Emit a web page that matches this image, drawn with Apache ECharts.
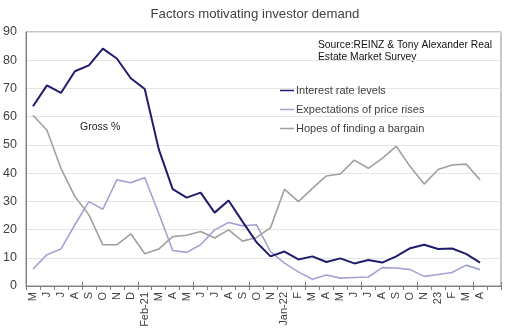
<!DOCTYPE html>
<html>
<head>
<meta charset="utf-8">
<script src="https://cdn.jsdelivr.net/npm/echarts@6/dist/echarts.min.js"></script>
<style>
html,body{margin:0;padding:0;background:#fff;}
#chart{width:510px;height:333px;}
</style>
</head>
<body>
<div id="chart"></div>
<script>
// Survey months (no survey in Jan-21, Dec-21 and Dec-22); the last slot is left empty
const months = ['M','J','J','A','S','O','N','D','Feb-21','M','A','M','J','J','A','S','O','N','Jan-22','F','M','A','M','J','J','A','S','O','N','23','F','M','A',''];

// Gross % of respondents citing each factor
const interestRateLevels = [63.7, 71.1, 68.4, 76.1, 78.2, 84.1, 80.6, 73.6, 69.8, 48.5, 34.3, 31.3, 33.1, 26.0, 30.3, 22.8, 15.5, 10.5, 12.2, 9.4, 10.5, 8.5, 9.8, 8.0, 9.2, 8.3, 10.5, 13.4, 14.6, 13.1, 13.3, 11.4, 8.3];
const priceRiseExpectations = [6.0, 11.1, 13.1, 21.7, 29.9, 27.2, 37.6, 36.6, 38.4, 25.8, 12.6, 11.9, 14.6, 19.9, 22.5, 21.3, 21.7, 12.2, 8.1, 5.0, 2.4, 3.9, 2.8, 3.0, 3.2, 6.5, 6.4, 5.8, 3.4, 4.1, 4.8, 7.4, 5.8];
const bargainHopes = [60.5, 55.2, 41.7, 31.7, 25.2, 14.6, 14.6, 18.5, 11.4, 13.1, 17.5, 18.0, 19.3, 17.0, 19.9, 15.9, 17.2, 20.6, 34.3, 29.9, 34.6, 39.0, 39.7, 44.6, 41.7, 45.2, 49.5, 42.3, 36.1, 41.3, 42.9, 43.2, 37.6];

const seriesNames = ['Interest rate levels', 'Expectations of price rises', 'Hopes of finding a bargain'];
const seriesColors = ['#1f1c6e', '#a3a3d3', '#a0a0a0'];

const FONT = '"Liberation Sans", Arial, sans-serif';
const chart = echarts.init(document.getElementById('chart'), null, {renderer: 'canvas'});

function lineSeries(idx, data, width) {
  return {
    name: seriesNames[idx],
    type: 'line',
    data: data,
    symbol: 'none',
    smooth: false,
    lineStyle: {color: seriesColors[idx], width: width},
    itemStyle: {color: seriesColors[idx]},
    z: 10 - idx
  };
}

chart.setOption({
  animation: false,
  backgroundColor: '#ffffff',
  title: {
    text: 'Factors motivating investor demand',
    left: 'center',
    top: 3,
    textStyle: {fontFamily: FONT, fontSize: 13.2, fontWeight: 'normal', color: '#404040'}
  },
  legend: {
    orient: 'vertical',
    left: 280,
    top: 85,
    padding: 0,
    itemGap: 8,
    itemWidth: 14,
    itemHeight: 14,
    icon: 'path://M0,6.5 L14,6.5 L14,8 L0,8 Z',
    textStyle: {fontFamily: FONT, fontSize: 11, color: '#404040', padding: [0, 0, 0, -3]},
    data: seriesNames
  },
  grid: {left: 26, right: 9, top: 32, bottom: 47, show: true, borderColor: '#8f8f8f', borderWidth: 1},
  xAxis: [{
    type: 'category',
    data: months,
    boundaryGap: true,
    axisLine: {lineStyle: {color: '#7f7f7f', width: 1}},
    axisTick: {show: true, alignWithLabel: false, length: 4, lineStyle: {color: '#7f7f7f'}},
    axisLabel: {rotate: 90, margin: 6, interval: 0, fontFamily: FONT, fontSize: 11, color: '#404040'},
    splitLine: {show: false}
  }, {
    type: 'category',
    data: months,
    position: 'bottom',
    boundaryGap: true,
    axisLine: {show: false},
    axisTick: {show: true, inside: true, length: 4, lineStyle: {color: '#7f7f7f'}},
    axisLabel: {show: false},
    splitLine: {show: false}
  }],
  yAxis: {
    type: 'value',
    min: 0,
    max: 90,
    interval: 10,
    axisLine: {show: true, lineStyle: {color: '#7f7f7f'}},
    axisTick: {show: false},
    axisLabel: {margin: 9, fontFamily: FONT, fontSize: 12.5, color: '#404040'},
    splitLine: {lineStyle: {color: '#e4e4e4', width: 1}}
  },
  graphic: [
    {type: 'text', left: 318, top: 39, style: {text: 'Source:REINZ & Tony Alexander Real\nEstate Market Survey', font: '10.3px ' + FONT, fill: '#111111', lineHeight: 12}},
    {type: 'text', left: 80, top: 122, style: {text: 'Gross %', font: '10.5px ' + FONT, fill: '#202020'}}
  ],
  series: [
    lineSeries(0, interestRateLevels, 2),
    lineSeries(1, priceRiseExpectations, 1.6),
    lineSeries(2, bargainHopes, 1.6)
  ]
});
</script>
</body>
</html>
